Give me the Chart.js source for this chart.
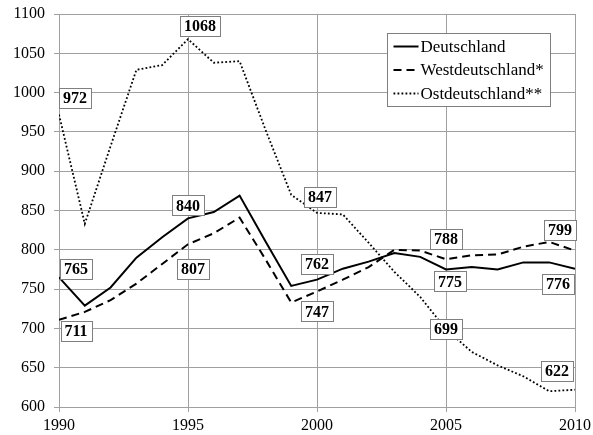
<!DOCTYPE html>
<html>
<head>
<meta charset="utf-8">
<script src="https://cdn.jsdelivr.net/npm/chart.js@4/dist/chart.umd.min.js"></script>
<style>
  body { margin: 0; background: #fff; }
  canvas { display: block; }
</style>
</head>
<body>
<canvas id="chart" width="593" height="435"></canvas>
<script>
// Werte je Jahr
const years = [1990, 1991, 1992, 1993, 1994, 1995, 1996, 1997, 1998, 1999, 2000,
               2001, 2002, 2003, 2004, 2005, 2006, 2007, 2008, 2009, 2010];
const deutschland = [765, 729, 752, 790, 816, 840, 848, 869, 811, 754, 762,
                     776, 785, 796, 791, 775, 778, 775, 784, 784, 776];
const westdeutschland = [711, 721, 736, 757, 782, 807, 821, 841, 788, 733, 747,
                         762, 778, 800, 799, 788, 793, 794, 804, 810, 799];
const ostdeutschland = [972, 833, 932, 1029, 1035, 1068, 1038, 1040, 953, 870, 847,
                        845, 809, 772, 740, 699, 670, 653, 639, 620, 622];
const seriesNames = ['Deutschland', 'Westdeutschland*', 'Ostdeutschland**'];
const labelYears = [1990, 1995, 2000, 2005, 2010];
const xTicks = [1990, 1995, 2000, 2005, 2010];
const yTicks = [600, 650, 700, 750, 800, 850, 900, 950, 1000, 1050, 1100];

// where each value box sits relative to its point (pixels)
const labelOffsets = [
  [[17, -8], [0, -13], [0, -16], [4, 12], [-17, 15]],
  [[17, 11], [5, 25], [0, 20], [0, -20], [-15, -21]],
  [[16, -17], [12, -13], [3, -16], [0, 0], [-18, -19]]
];

const serif = 'Liberation Serif';
Chart.defaults.font.family = serif;

const toPoints = arr => years.map((yr, i) => ({ x: yr, y: arr[i] }));

const valueBoxes = {
  id: 'valueBoxes',
  afterDatasetsDraw(chart) {
    const ctx = chart.ctx;
    const xs = chart.scales.x, ys = chart.scales.y;
    ctx.save();
    ctx.font = 'bold 16px "' + serif + '"';
    ctx.textAlign = 'center';
    ctx.textBaseline = 'middle';
    chart.data.datasets.forEach((ds, di) => {
      labelYears.forEach((yr, li) => {
        const i = years.indexOf(yr);
        const v = ds.data[i].y;
        const off = labelOffsets[di][li];
        const cx = xs.getPixelForValue(yr) + off[0];
        const cy = ys.getPixelForValue(v) + off[1];
        const txt = String(v);
        const w = Math.round(ctx.measureText(txt).width + 8);
        const h = 20;
        const bx = Math.round(cx - w / 2) + 0.5, by = Math.round(cy - h / 2) + 0.5;
        ctx.fillStyle = '#fff';
        ctx.fillRect(bx, by, w, h);
        ctx.strokeStyle = '#7f7f7f';
        ctx.lineWidth = 1;
        ctx.strokeRect(bx, by, w, h);
        ctx.fillStyle = '#000';
        ctx.fillText(txt, cx, cy + 1);
      });
    });
    ctx.restore();
  }
};

const boxLegend = {
  id: 'boxLegend',
  afterDraw(chart) {
    const ctx = chart.ctx;
    const left = 387.5, top = 33.5, w = 163, h = 73;
    ctx.save();
    ctx.fillStyle = '#fff';
    ctx.fillRect(left, top, w, h);
    ctx.strokeStyle = '#7f7f7f';
    ctx.lineWidth = 1;
    ctx.strokeRect(left, top, w, h);
    ctx.font = '17px "' + serif + '"';
    ctx.textBaseline = 'middle';
    ctx.textAlign = 'left';
    chart.data.datasets.forEach((ds, i) => {
      const y = top + 13 + i * 23.5;
      ctx.strokeStyle = '#000';
      ctx.lineWidth = ds.borderWidth;
      ctx.setLineDash(ds.borderDash || []);
      ctx.beginPath();
      ctx.moveTo(left + 6, y);
      ctx.lineTo(left + 31, y);
      ctx.stroke();
      ctx.setLineDash([]);
      ctx.fillStyle = '#000';
      ctx.fillText(ds.label, left + 33, y + 1);
    });
    ctx.restore();
  }
};

new Chart(document.getElementById('chart'), {
  type: 'line',
  data: {
    datasets: [
      { label: seriesNames[0], data: toPoints(deutschland), borderColor: '#000', borderWidth: 2, pointRadius: 0, tension: 0 },
      { label: seriesNames[1], data: toPoints(westdeutschland), borderColor: '#000', borderWidth: 2, borderDash: [8, 5], pointRadius: 0, tension: 0 },
      { label: seriesNames[2], data: toPoints(ostdeutschland), borderColor: '#000', borderWidth: 1.8, borderDash: [1.8, 2.2], pointRadius: 0, tension: 0 }
    ]
  },
  options: {
    responsive: false,
    animation: false,
    layout: { padding: { top: 14, right: 18, left: 0, bottom: 0 } },
    plugins: { legend: { display: false }, tooltip: { enabled: false } },
    scales: {
      x: {
        type: 'linear',
        min: 1990, max: 2010,
        afterBuildTicks: s => { s.ticks = xTicks.map(v => ({ value: v })); },
        afterFit: s => { s.height = 28; s.paddingLeft = 0; s.paddingRight = 0; },
        ticks: { color: '#000', font: { family: serif, size: 16 }, padding: 4, maxRotation: 0, callback: v => String(v) },
        grid: { color: '#a0a0a0', lineWidth: 1, tickLength: 5 },
        border: { color: '#a0a0a0' }
      },
      y: {
        min: 600, max: 1100,
        afterBuildTicks: s => { s.ticks = yTicks.map(v => ({ value: v })); },
        afterFit: s => { s.width = 59; s.paddingTop = 0; s.paddingBottom = 0; },
        ticks: { color: '#000', font: { family: serif, size: 16 }, padding: 9, callback: v => String(v) },
        grid: { color: '#a0a0a0', lineWidth: 1, tickLength: 5 },
        border: { color: '#a0a0a0' }
      }
    }
  },
  plugins: [valueBoxes, boxLegend]
});
</script>
</body>
</html>
